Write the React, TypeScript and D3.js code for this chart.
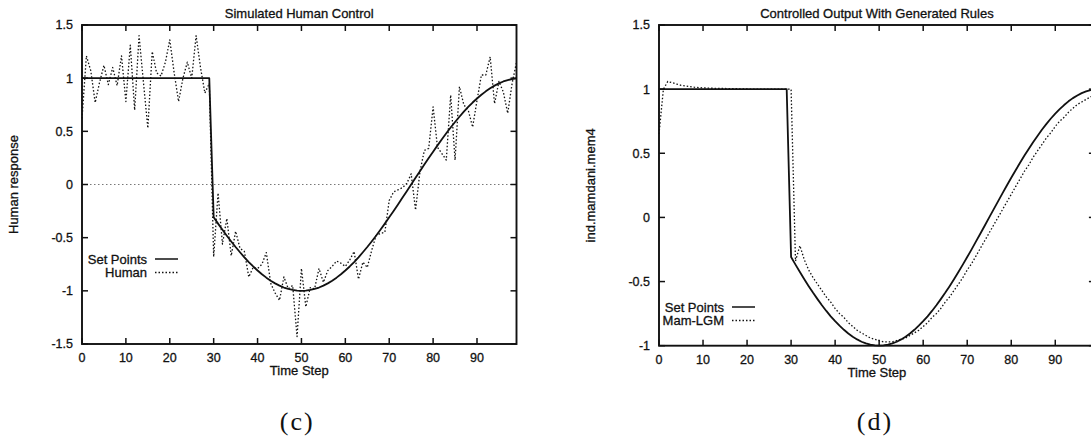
import React from "react";
import * as d3 from "d3";

// set point trajectory (same for both panels)
const setPoints = [
  1, 1, 1, 1, 1, 1, 1, 1, 1, 1,
  1, 1, 1, 1, 1, 1, 1, 1, 1, 1,
  1, 1, 1, 1, 1, 1, 1, 1, 1, 1,
  -0.309, -0.368, -0.426, -0.482, -0.536, -0.588, -0.637, -0.685, -0.729, -0.771,
  -0.809, -0.844, -0.876, -0.905, -0.93, -0.951, -0.969, -0.982, -0.992, -0.998,
  -1.0, -0.998, -0.992, -0.982, -0.969, -0.951, -0.93, -0.905, -0.876, -0.844,
  -0.809, -0.771, -0.729, -0.685, -0.637, -0.588, -0.536, -0.482, -0.426, -0.368,
  -0.309, -0.249, -0.187, -0.125, -0.063, 0.0, 0.063, 0.125, 0.187, 0.249,
  0.309, 0.368, 0.426, 0.482, 0.536, 0.588, 0.637, 0.685, 0.729, 0.771,
  0.809, 0.844, 0.876, 0.905, 0.93, 0.951, 0.969, 0.982, 0.992, 0.998,
];

// simulated human response (c)
const human = [
  0.62, 1.21, 1.07, 0.77, 0.96, 1.12, 0.94, 1.1, 0.93, 1.21,
  0.78, 1.31, 0.7, 1.4, 0.96, 0.53, 1.25, 1.05, 1.02, 1.15,
  1.36, 1.05, 0.78, 1.0, 1.15, 1.0, 1.4, 1.1, 0.86, 0.95,
  -0.68, -0.08, -0.56, -0.32, -0.67, -0.44, -0.6, -0.63, -0.87, -0.78,
  -0.79, -0.75, -0.64, -0.93, -1.02, -1.09, -0.87, -0.98, -0.95, -1.43,
  -0.79, -1.15, -0.97, -0.98, -0.79, -0.92, -0.81, -0.77, -0.72, -0.74,
  -0.77, -0.71, -0.63, -0.89, -0.73, -0.78, -0.62, -0.48, -0.46, -0.45,
  -0.15, -0.07, -0.05, -0.03, 0.01, 0.1, -0.24, 0.12, 0.32, 0.34,
  0.73, 0.35, 0.29, 0.23, 0.84, 0.23, 0.92, 0.75, 0.7, 0.54,
  0.79, 1.03, 1.03, 1.2, 0.76, 0.97, 0.87, 0.67, 0.95, 1.15,
];

// controller output with generated rules (d)
const mamLGM = [
  0.65, 1.0, 1.06, 1.05, 1.04, 1.03, 1.025, 1.02, 1.015, 1.012,
  1.01, 1.008, 1.007, 1.006, 1.005, 1.005, 1.004, 1.003, 1.003, 1.002,
  1.002, 1.0, 1.0, 1.0, 1.0, 1.0, 1.0, 1.0, 1.0, 1.0,
  1.0, -0.34, -0.22, -0.33, -0.41, -0.47, -0.52, -0.57, -0.62, -0.66,
  -0.71, -0.75, -0.78, -0.82, -0.85, -0.88, -0.9, -0.92, -0.94, -0.95,
  -0.96, -0.97, -0.97, -0.97, -0.96, -0.95, -0.94, -0.92, -0.9, -0.88,
  -0.85, -0.82, -0.78, -0.75, -0.71, -0.66, -0.62, -0.57, -0.52, -0.47,
  -0.41, -0.36, -0.3, -0.24, -0.18, -0.12, -0.06, 0.0, 0.06, 0.12,
  0.18, 0.24, 0.3, 0.36, 0.41, 0.47, 0.52, 0.57, 0.62, 0.66,
  0.71, 0.75, 0.78, 0.82, 0.85, 0.88, 0.9, 0.92, 0.94, 0.95,
];

const timeSteps = setPoints.map((_, i) => i);
const xTicks = [0, 10, 20, 30, 40, 50, 60, 70, 80, 90];
const yTicksC = [-1.5, -1, -0.5, 0, 0.5, 1, 1.5];
const yTicksD = [-1, -0.5, 0, 0.5, 1, 1.5];

const FONT = '"Liberation Sans", Arial, Helvetica, sans-serif';
const INK = "#111";

type Series = { label: string; values: number[]; dotted: boolean };

type PanelProps = {
  left: number;
  right: number;
  top: number;
  bottom: number;
  yDomain: [number, number];
  yTicks: number[];
  title: string;
  yLabel: string;
  series: Series[];
  legendX: number;
  legendY: number;
  zeroLine: boolean;
  caption: string;
};

function Panel(p: PanelProps) {
  const x = d3.scaleLinear().domain([0, 99]).range([p.left, p.right]);
  const y = d3.scaleLinear().domain(p.yDomain).range([p.bottom, p.top]);
  const line = d3
    .line<number>()
    .x((_, i) => x(timeSteps[i]))
    .y((d) => y(d));
  const cx = (p.left + p.right) / 2;
  const cy = (p.top + p.bottom) / 2;
  const tk = 6;

  return (
    <g fontFamily={FONT} fill={INK}>
      {/* scanned text looks heavier, so a thin outline on the labels */}
      <g stroke={INK} strokeWidth={0.3}>
        <text x={cx} y={18} fontSize={13} textAnchor="middle">
          {p.title}
        </text>
        {xTicks.map((t) => (
          <text key={"xl" + t} x={x(t)} y={p.bottom + 18} fontSize={12.5} textAnchor="middle">
            {String(t)}
          </text>
        ))}
        {p.yTicks.map((v) => (
          <text key={"yl" + v} x={p.left - 9} y={y(v)} dy="0.35em" fontSize={12.5} textAnchor="end">
            {String(v)}
          </text>
        ))}
        <text x={cx} y={p.bottom + 31} fontSize={13} textAnchor="middle">
          Time Step
        </text>
        <text
          transform={`translate(${p.left - 64},${cy}) rotate(-90)`}
          fontSize={13}
          textAnchor="middle"
        >
          {p.yLabel}
        </text>
        {p.series.map((s, i) => (
          <text
            key={"lt" + s.label}
            x={p.legendX}
            y={p.legendY + i * 13.5}
            dy="0.35em"
            fontSize={13}
            textAnchor="end"
          >
            {s.label}
          </text>
        ))}
      </g>

      {p.zeroLine && (
        <line
          x1={p.left}
          x2={p.right}
          y1={y(0)}
          y2={y(0)}
          stroke="#555"
          strokeWidth={0.8}
          strokeDasharray="1.5,2.5"
        />
      )}

      {p.series.map((s) => (
        <path
          key={s.label}
          d={line(s.values) || ""}
          fill="none"
          stroke={INK}
          strokeWidth={s.dotted ? 1.3 : 1.8}
          strokeDasharray={s.dotted ? "1.5,2" : undefined}
          strokeLinejoin="round"
        />
      ))}

      <rect
        x={p.left}
        y={p.top}
        width={p.right - p.left}
        height={p.bottom - p.top}
        fill="none"
        stroke={INK}
        strokeWidth={1.9}
      />

      {xTicks.map((t) => (
        <g key={"x" + t}>
          <line x1={x(t)} x2={x(t)} y1={p.bottom} y2={p.bottom - tk} stroke={INK} strokeWidth={1.5} />
          <line x1={x(t)} x2={x(t)} y1={p.top} y2={p.top + tk} stroke={INK} strokeWidth={1.5} />
        </g>
      ))}

      {p.yTicks.map((v) => (
        <g key={"y" + v}>
          <line x1={p.left} x2={p.left + tk} y1={y(v)} y2={y(v)} stroke={INK} strokeWidth={1.5} />
          <line x1={p.right} x2={p.right - tk} y1={y(v)} y2={y(v)} stroke={INK} strokeWidth={1.5} />
        </g>
      ))}

      {p.series.map((s, i) => (
        <line
          key={"ll" + s.label}
          x1={p.legendX + 8}
          x2={p.legendX + 31}
          y1={p.legendY + i * 13.5}
          y2={p.legendY + i * 13.5}
          stroke={INK}
          strokeWidth={s.dotted ? 1.3 : 1.5}
          strokeDasharray={s.dotted ? "1.5,2" : undefined}
        />
      ))}

      <text
        x={cx - 2}
        y={430}
        fontSize={26}
        fontFamily='"Liberation Serif", "DejaVu Serif", serif'
        textAnchor="middle"
        letterSpacing={2}
      >
        {p.caption}
      </text>
    </g>
  );
}

export default function App() {
  return (
    <svg
      width={1091}
      height={438}
      style={{ position: "absolute", left: 0, top: 0, background: "#fff" }}
    >
      <rect width={1091} height={438} fill="#fff" />
      <Panel
        left={82}
        right={516.5}
        top={25}
        bottom={344}
        yDomain={[-1.5, 1.5]}
        yTicks={yTicksC}
        title="Simulated Human Control"
        yLabel="Human response"
        series={[
          { label: "Set Points", values: setPoints, dotted: false },
          { label: "Human", values: human, dotted: true },
        ]}
        legendX={147}
        legendY={259}
        zeroLine={true}
        caption="(c)"
      />
      <Panel
        left={659}
        right={1094.9}
        top={25}
        bottom={345.7}
        yDomain={[-1, 1.5]}
        yTicks={yTicksD}
        title="Controlled Output With Generated Rules"
        yLabel="ind.mamdani.mem4"
        series={[
          { label: "Set Points", values: setPoints, dotted: false },
          { label: "Mam-LGM", values: mamLGM, dotted: true },
        ]}
        legendX={724}
        legendY={307}
        zeroLine={false}
        caption="(d)"
      />
    </svg>
  );
}
